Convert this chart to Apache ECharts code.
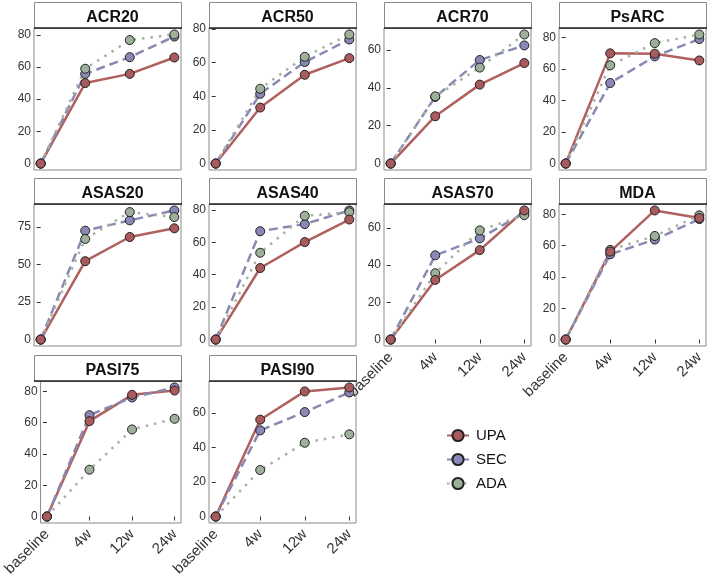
<!DOCTYPE html>
<html>
<head>
<meta charset="utf-8">
<script src="https://cdn.jsdelivr.net/npm/echarts@6/dist/echarts.min.js"></script>
<style>
  html, body { margin: 0; padding: 0; background: #fff; }
  #cn { width: 709px; height: 580px; }
</style>
</head>
<body>
<div id="cn"></div>
<script>
'use strict';

const arrPanel = ['ACR20', 'ACR50', 'ACR70', 'PsARC', 'ASAS20', 'ASAS40', 'ASAS70', 'MDA', 'PASI75', 'PASI90'];
const arrTime = ['baseline', '4w', '12w', '24w'];

// values per panel: baseline, 4w, 12w, 24w
const arrUPA = [
    [0, 50.0, 55.7, 65.9],
    [0, 33.3, 52.8, 62.7],
    [0, 25.0, 41.7, 53.1],
    [0, 69.9, 69.7, 65.4],
    [0, 52.2, 68.3, 74.1],
    [0, 44.1, 60.1, 74.0],
    [0, 32.0, 48.0, 69.3],
    [0, 56.2, 82.5, 77.7],
    [0, 60.9, 77.7, 80.4],
    [0, 56.2, 72.6, 74.9]
];
const arrSEC = [
    [0, 55.7, 66.1, 78.9],
    [0, 41.5, 60.4, 73.8],
    [0, 35.2, 54.7, 62.4],
    [0, 51.1, 68.0, 79.0],
    [0, 72.5, 79.4, 86.0],
    [0, 66.8, 71.2, 79.6],
    [0, 45.2, 54.3, 68.0],
    [0, 54.5, 63.9, 77.0],
    [0, 64.7, 76.0, 82.4],
    [0, 50.0, 60.6, 72.0]
];
const arrADA = [
    [0, 58.9, 76.7, 80.2],
    [0, 44.5, 63.5, 76.8],
    [0, 35.5, 50.7, 68.2],
    [0, 62.3, 76.4, 81.9],
    [0, 67.0, 84.9, 81.6],
    [0, 53.5, 76.3, 78.5],
    [0, 35.6, 58.6, 66.8],
    [0, 57.3, 66.2, 79.4],
    [0, 29.9, 55.6, 62.4],
    [0, 27.0, 42.8, 47.7]
];
const arrYTicks = [
    [0, 20, 40, 60, 80],
    [0, 20, 40, 60, 80],
    [0, 20, 40, 60],
    [0, 20, 40, 60, 80],
    [0, 25, 50, 75],
    [0, 20, 40, 60, 80],
    [0, 20, 40, 60],
    [0, 20, 40, 60, 80],
    [0, 20, 40, 60, 80],
    [0, 20, 40, 60]
];

const arrBottom = [6, 7, 8, 9]; // panels that carry the x labels

const groups = [
    { name: 'UPA', data: arrUPA, color: '#b0605f', fill: '#a95a5c', type: 'solid' },
    { name: 'SEC', data: arrSEC, color: '#8a89b3', fill: '#8988b6', type: [9, 5] },
    { name: 'ADA', data: arrADA, color: '#a5b3a2', fill: '#9db09a', type: [2.5, 6] }
];

const fontFamily = 'Liberation Sans, Arial, sans-serif';
const colLeft = [34, 209, 384, 559];
const rowTop = [28, 204, 381];
const panelW = 147;
const panelH = 142;
const stripH = 26;

const toXY = arr => arr.map((v, i) => [i, v]);

const option = {
    backgroundColor: '#fff',
    animation: false,
    textStyle: { fontFamily: fontFamily },
    title: [],
    grid: [],
    xAxis: [],
    yAxis: [],
    series: [],
    graphic: [],
    legend: {
        data: ['UPA', 'SEC', 'ADA'],
        orient: 'vertical',
        left: 441,
        top: 423,
        itemWidth: 22,
        itemHeight: 14,
        itemGap: 9,
        textStyle: {
            fontSize: 15,
            color: '#111',
            padding: [0, 0, 0, 2]
        }
    }
};

arrPanel.forEach((p, k) => {
    const left = colLeft[k % 4];
    const top = rowTop[Math.floor(k / 4)];
    const vmax = Math.max(...arrUPA[k], ...arrSEC[k], ...arrADA[k]);
    const isBottom = arrBottom.includes(k);

    option.grid.push({
        left: left,
        top: top,
        width: panelW,
        height: panelH,
        show: true,
        backgroundColor: '#fff',
        borderColor: '#8a8a8a',
        borderWidth: 1
    });

    option.xAxis.push({
        type: 'value',
        gridIndex: k,
        min: -0.15,
        max: 3.15,
        splitLine: { show: false },
        axisLine: { show: false },
        axisTick: {
            show: isBottom,
            length: 4,
            customValues: [0, 1, 2, 3],
            lineStyle: { color: '#333' }
        },
        axisLabel: {
            show: isBottom,
            customValues: [0, 1, 2, 3],
            rotate: 45,
            margin: 9,
            fontSize: 15,
            color: '#333',
            formatter: v => arrTime[Math.round(v)]
        }
    });

    option.yAxis.push({
        type: 'value',
        gridIndex: k,
        min: -0.05 * vmax,
        max: 1.05 * vmax,
        splitLine: { show: false },
        axisLine: { show: false },
        axisTick: {
            show: true,
            length: 4,
            customValues: arrYTicks[k],
            lineStyle: { color: '#333' }
        },
        axisLabel: {
            customValues: arrYTicks[k],
            margin: 3,
            fontSize: 12,
            color: '#333'
        }
    });

    // strip
    option.graphic.push({
        type: 'rect',
        shape: { x: left + 0.5, y: top - stripH + 0.5, width: panelW, height: stripH },
        style: { fill: '#fff', stroke: '#8a8a8a', lineWidth: 1 },
        z: 1
    });
    option.graphic.push({
        type: 'line',
        shape: { x1: left, y1: top, x2: left + panelW + 1, y2: top },
        style: { stroke: '#222', lineWidth: 1.5 },
        z: 2
    });
    option.title.push({
        text: p,
        left: left + panelW / 2,
        top: top - stripH + 3,
        textAlign: 'center',
        z: 50,
        textStyle: { fontSize: 16, fontWeight: 'bold', color: '#111', fontFamily: fontFamily }
    });

    // lines under all points
    groups.forEach(g => {
        option.series.push({
            name: g.name,
            type: 'line',
            xAxisIndex: k,
            yAxisIndex: k,
            data: toXY(g.data[k]),
            symbol: 'circle',
            symbolSize: 9,
            showSymbol: false,
            lineStyle: { color: g.color, width: 2.5, type: g.type },
            itemStyle: { color: g.fill, borderColor: '#222', borderWidth: 1 },
            z: 2,
            silent: true
        });
    });
    [groups[1], groups[2], groups[0]].forEach(g => {
        option.series.push({
            name: g.name,
            type: 'scatter',
            xAxisIndex: k,
            yAxisIndex: k,
            data: toXY(g.data[k]),
            symbol: 'circle',
            symbolSize: 9,
            itemStyle: { color: g.fill, borderColor: '#222', borderWidth: 1, opacity: 1 },
            z: 3,
            silent: true
        });
    });
});

const echartsFacet = echarts.init(document.getElementById('cn'), null, { renderer: 'canvas' });
echartsFacet.setOption(option);
</script>
</body>
</html>
